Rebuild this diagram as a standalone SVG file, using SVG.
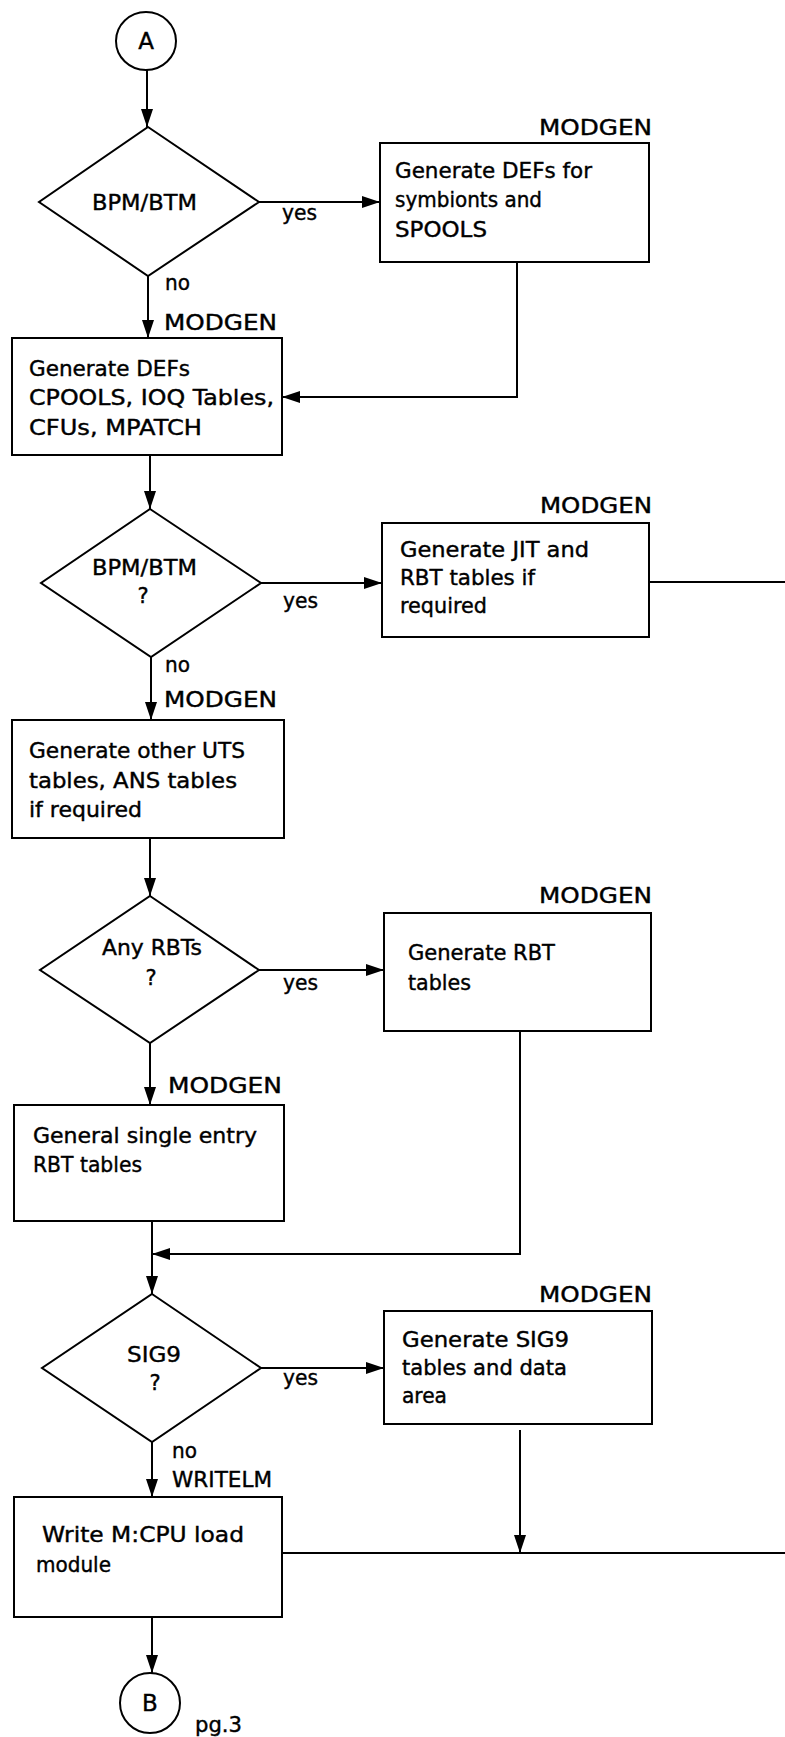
<svg xmlns="http://www.w3.org/2000/svg" width="785" height="1737" viewBox="0 0 785 1737">
<style>
text{font-family:"DejaVu Sans","Liberation Sans",sans-serif;font-size:21px;fill:#000;stroke:#000;stroke-width:0.4}
.s{fill:none;stroke:#000;stroke-width:2}
.c{fill:none;stroke:#000;stroke-width:2}
.m{text-anchor:middle}
.big{font-size:23px}
</style>
<defs>
<marker id="ah" markerUnits="userSpaceOnUse" markerWidth="18" markerHeight="12" refX="18" refY="6" orient="auto">
<path d="M0,0 L18,6 L0,12 z" fill="#000"/>
</marker>
</defs>
<rect width="785" height="1737" fill="#fff"/>
<g id="connA"><ellipse class="s" cx="146" cy="41" rx="30" ry="29"/><text class="m big" x="146" y="49">A</text></g>
<g id="d1"><polygon class="s" points="148,127 259,202 148,276 39,202"/><text x="92" y="210" textLength="105" lengthAdjust="spacingAndGlyphs">BPM/BTM</text></g>
<g id="b1"><text x="539" y="135" textLength="113" lengthAdjust="spacingAndGlyphs">MODGEN</text><rect class="s" x="380" y="143" width="269" height="119"/>
<text x="395" y="178" textLength="197" lengthAdjust="spacingAndGlyphs">Generate DEFs for</text><text x="395" y="207" textLength="147" lengthAdjust="spacingAndGlyphs">symbionts and</text><text x="395" y="237" textLength="92" lengthAdjust="spacingAndGlyphs">SPOOLS</text></g>
<g id="b2"><text x="164" y="330" textLength="113" lengthAdjust="spacingAndGlyphs">MODGEN</text><rect class="s" x="12" y="338" width="270" height="117"/>
<text x="29" y="376" textLength="161" lengthAdjust="spacingAndGlyphs">Generate DEFs</text><text x="29" y="405" textLength="245" lengthAdjust="spacingAndGlyphs">CPOOLS, IOQ Tables,</text><text x="29" y="435" textLength="173" lengthAdjust="spacingAndGlyphs">CFUs, MPATCH</text></g>
<g id="d2"><polygon class="s" points="150,509 261,583 151,657 41,583"/><text x="92" y="575" textLength="105" lengthAdjust="spacingAndGlyphs">BPM/BTM</text><text class="m" x="143" y="603">?</text></g>
<g id="b3"><text x="540" y="513" textLength="112" lengthAdjust="spacingAndGlyphs">MODGEN</text><rect class="s" x="382" y="523" width="267" height="114"/>
<text x="400" y="557" textLength="189" lengthAdjust="spacingAndGlyphs">Generate JIT and</text><text x="400" y="585" textLength="135" lengthAdjust="spacingAndGlyphs">RBT tables if</text><text x="400" y="613" textLength="87" lengthAdjust="spacingAndGlyphs">required</text></g>
<g id="b4"><text x="164" y="707" textLength="113" lengthAdjust="spacingAndGlyphs">MODGEN</text><rect class="s" x="12" y="720" width="272" height="118"/>
<text x="29" y="758" textLength="216" lengthAdjust="spacingAndGlyphs">Generate other UTS</text><text x="29" y="788" textLength="208" lengthAdjust="spacingAndGlyphs">tables, ANS tables</text><text x="29" y="817" textLength="113" lengthAdjust="spacingAndGlyphs">if required</text></g>
<g id="d3"><polygon class="s" points="150,896 259,970 150,1043 40,970"/><text x="102" y="955" textLength="100" lengthAdjust="spacingAndGlyphs">Any RBTs</text><text class="m" x="151" y="985">?</text></g>
<g id="b5"><text x="539" y="903" textLength="113" lengthAdjust="spacingAndGlyphs">MODGEN</text><rect class="s" x="384" y="913" width="267" height="118"/>
<text x="408" y="960" textLength="147" lengthAdjust="spacingAndGlyphs">Generate RBT</text><text x="408" y="990" textLength="63" lengthAdjust="spacingAndGlyphs">tables</text></g>
<g id="b6"><text x="168" y="1093" textLength="114" lengthAdjust="spacingAndGlyphs">MODGEN</text><rect class="s" x="14" y="1105" width="270" height="116"/>
<text x="33" y="1143" textLength="224" lengthAdjust="spacingAndGlyphs">General single entry</text><text x="33" y="1172" textLength="109" lengthAdjust="spacingAndGlyphs">RBT tables</text></g>
<g id="d4"><polygon class="s" points="152,1294 261,1368 152,1442 42,1368"/><text x="127" y="1362" textLength="54" lengthAdjust="spacingAndGlyphs">SIG9</text><text class="m" x="155" y="1390">?</text></g>
<g id="b7"><text x="539" y="1302" textLength="113" lengthAdjust="spacingAndGlyphs">MODGEN</text><rect class="s" x="384" y="1311" width="268" height="113"/>
<text x="402" y="1347" textLength="167" lengthAdjust="spacingAndGlyphs">Generate SIG9</text><text x="402" y="1375" textLength="165" lengthAdjust="spacingAndGlyphs">tables and data</text><text x="402" y="1403" textLength="45" lengthAdjust="spacingAndGlyphs">area</text></g>
<g id="b8"><text x="172" y="1487" textLength="100" lengthAdjust="spacingAndGlyphs">WRITELM</text><rect class="s" x="14" y="1497" width="268" height="120"/>
<text x="42" y="1542" textLength="202" lengthAdjust="spacingAndGlyphs">Write M:CPU load</text><text x="36" y="1572" textLength="75" lengthAdjust="spacingAndGlyphs">module</text></g>
<g id="connB"><ellipse class="s" cx="150" cy="1703" rx="30" ry="30"/><text class="m big" x="150" y="1711">B</text><text x="195" y="1732" textLength="47" lengthAdjust="spacingAndGlyphs">pg.3</text></g>
<g id="connectors">
<line class="c" x1="147" y1="70" x2="147" y2="127" marker-end="url(#ah)"/>
<line class="c" x1="259" y1="202" x2="380" y2="202" marker-end="url(#ah)"/>
<line class="c" x1="148" y1="276" x2="148" y2="338" marker-end="url(#ah)"/>
<polyline class="c" points="517,262 517,397 282,397" marker-end="url(#ah)"/>
<line class="c" x1="150" y1="455" x2="150" y2="509" marker-end="url(#ah)"/>
<line class="c" x1="261" y1="583" x2="382" y2="583" marker-end="url(#ah)"/>
<line class="c" x1="649" y1="582" x2="785" y2="582"/>
<line class="c" x1="151" y1="657" x2="151" y2="720" marker-end="url(#ah)"/>
<line class="c" x1="150" y1="838" x2="150" y2="896" marker-end="url(#ah)"/>
<line class="c" x1="259" y1="970" x2="384" y2="970" marker-end="url(#ah)"/>
<line class="c" x1="150" y1="1043" x2="150" y2="1105" marker-end="url(#ah)"/>
<polyline class="c" points="520,1031 520,1254 152,1254" marker-end="url(#ah)"/>
<line class="c" x1="152" y1="1221" x2="152" y2="1294" marker-end="url(#ah)"/>
<line class="c" x1="261" y1="1368" x2="384" y2="1368" marker-end="url(#ah)"/>
<line class="c" x1="152" y1="1442" x2="152" y2="1497" marker-end="url(#ah)"/>
<line class="c" x1="520" y1="1430" x2="520" y2="1553" marker-end="url(#ah)"/>
<line class="c" x1="282" y1="1553" x2="785" y2="1553"/>
<line class="c" x1="152" y1="1617" x2="152" y2="1673" marker-end="url(#ah)"/>
<text x="282" y="220" textLength="35" lengthAdjust="spacingAndGlyphs">yes</text>
<text x="165" y="290" textLength="25" lengthAdjust="spacingAndGlyphs">no</text>
<text x="283" y="608" textLength="35" lengthAdjust="spacingAndGlyphs">yes</text>
<text x="165" y="672" textLength="25" lengthAdjust="spacingAndGlyphs">no</text>
<text x="283" y="990" textLength="35" lengthAdjust="spacingAndGlyphs">yes</text>
<text x="283" y="1385" textLength="35" lengthAdjust="spacingAndGlyphs">yes</text>
<text x="172" y="1458" textLength="25" lengthAdjust="spacingAndGlyphs">no</text>
</g>
</svg>
